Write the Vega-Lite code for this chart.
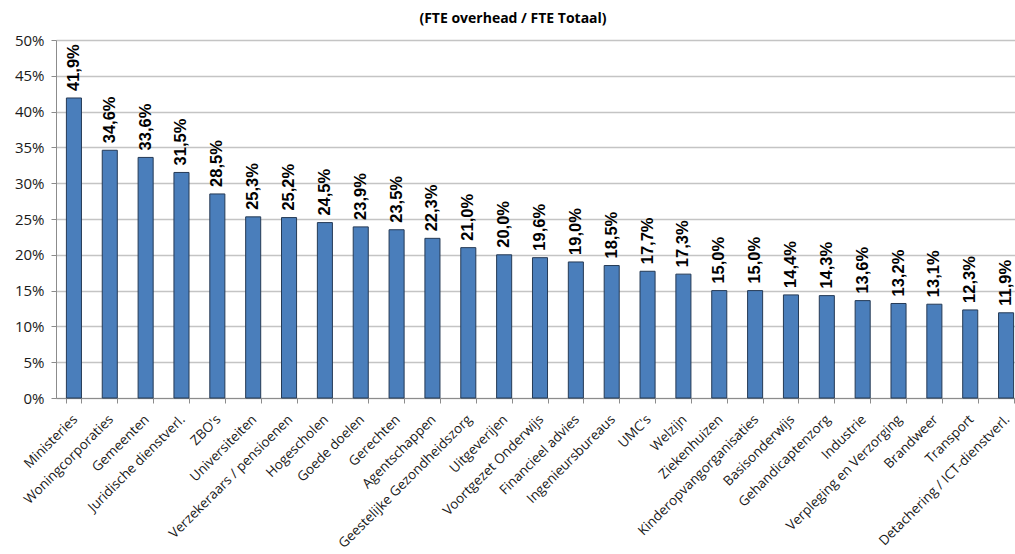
{
  "$schema": "https://vega.github.io/schema/vega-lite/v6.json",
  "autosize": {"type": "none"},
  "width": 968,
  "height": 358,
  "padding": {"left": 56, "top": 40, "right": -9, "bottom": 156},
  "background": "white",
  "title": {
    "text": "(FTE overhead / FTE Totaal)",
    "font": "Open Sans",
    "fontSize": 14,
    "fontWeight": "bold",
    "color": "#000000",
    "anchor": "middle",
    "dx": -27,
    "offset": 7
  },
  "config": {
    "locale": {
      "number": {"decimal": ",", "thousands": ".", "grouping": [3], "currency": ["€", ""]}
    },
    "view": {"stroke": null}
  },
  "data": {
    "values": [
      {"sector": "Ministeries", "aandeel": 0.419},
      {"sector": "Woningcorporaties", "aandeel": 0.346},
      {"sector": "Gemeenten", "aandeel": 0.336},
      {"sector": "Juridische dienstverl.", "aandeel": 0.315},
      {"sector": "ZBO's", "aandeel": 0.285},
      {"sector": "Universiteiten", "aandeel": 0.253},
      {"sector": "Verzekeraars / pensioenen", "aandeel": 0.252},
      {"sector": "Hogescholen", "aandeel": 0.245},
      {"sector": "Goede doelen", "aandeel": 0.239},
      {"sector": "Gerechten", "aandeel": 0.235},
      {"sector": "Agentschappen", "aandeel": 0.223},
      {"sector": "Geestelijke Gezondheidszorg", "aandeel": 0.210},
      {"sector": "Uitgeverijen", "aandeel": 0.200},
      {"sector": "Voortgezet Onderwijs", "aandeel": 0.196},
      {"sector": "Financieel advies", "aandeel": 0.190},
      {"sector": "Ingenieursbureaus", "aandeel": 0.185},
      {"sector": "UMC's", "aandeel": 0.177},
      {"sector": "Welzijn", "aandeel": 0.173},
      {"sector": "Ziekenhuizen", "aandeel": 0.150},
      {"sector": "Kinderopvangorganisaties", "aandeel": 0.150},
      {"sector": "Basisonderwijs", "aandeel": 0.144},
      {"sector": "Gehandicaptenzorg", "aandeel": 0.143},
      {"sector": "Industrie", "aandeel": 0.136},
      {"sector": "Verpleging en Verzorging", "aandeel": 0.132},
      {"sector": "Brandweer", "aandeel": 0.131},
      {"sector": "Transport", "aandeel": 0.123},
      {"sector": "Detachering / ICT-dienstverl.", "aandeel": 0.119}
    ]
  },
  "encoding": {
    "x": {
      "field": "sector",
      "type": "nominal",
      "sort": null,
      "scale": {"paddingInner": 0.58, "paddingOuter": 0.29},
      "axis": {
        "title": null,
        "labelAngle": -45,
        "labelAlign": "right",
        "labelBaseline": "top",
        "labelFont": "Open Sans",
        "labelFontSize": 13.5,
        "labelColor": "#1a1a1a",
        "labelPadding": 9,
        "labelOffset": -4,
        "labelOverlap": false,
        "labelLimit": 400,
        "tickBand": "extent",
        "tickSize": 5,
        "tickColor": "#8c8c8c",
        "domainColor": "#8c8c8c",
        "grid": false
      }
    },
    "y": {
      "field": "aandeel",
      "type": "quantitative",
      "scale": {"domain": [0, 0.5], "nice": false},
      "axis": {
        "title": null,
        "format": ".0%",
        "values": [0, 0.05, 0.1, 0.15, 0.2, 0.25, 0.3, 0.35, 0.4, 0.45, 0.5],
        "labelFont": "Open Sans",
        "labelFontSize": 15,
        "labelColor": "#1a1a1a",
        "labelPadding": 7,
        "tickSize": 5,
        "tickColor": "#8c8c8c",
        "domainColor": "#8c8c8c",
        "grid": true,
        "gridColor": "#c4c4c4",
        "gridWidth": 1.5
      }
    }
  },
  "layer": [
    {
      "mark": {"type": "bar", "color": "#4a7ebb", "stroke": "#253a55", "strokeWidth": 1}
    },
    {
      "mark": {
        "type": "text",
        "angle": 270,
        "align": "left",
        "baseline": "middle",
        "dx": 7,
        "font": "Liberation Sans",
        "fontSize": 16.5,
        "fontWeight": "bold",
        "color": "#000000"
      },
      "encoding": {
        "text": {"field": "aandeel", "type": "quantitative", "format": ".1%"}
      }
    }
  ]
}
